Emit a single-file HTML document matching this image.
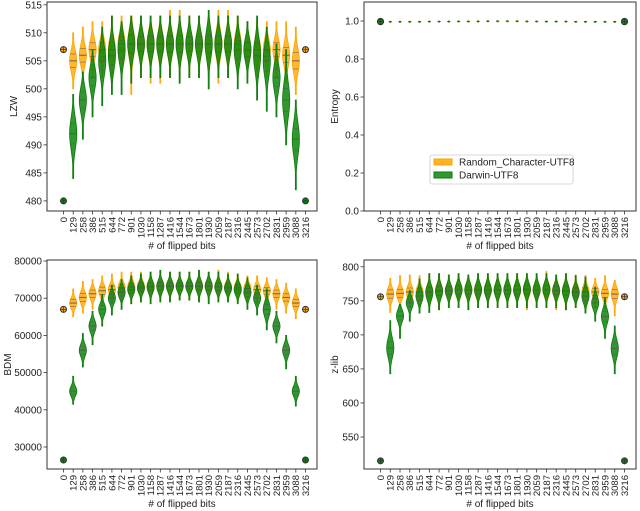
<!DOCTYPE html>
<html><head><meta charset="utf-8">
<style>
html,body{margin:0;padding:0;background:#fff;}
svg{display:block;font-family:"Liberation Sans","DejaVu Sans",sans-serif;}
</style></head>
<body>
<svg id="fig" width="640" height="511" viewBox="0 0 640 511" xmlns="http://www.w3.org/2000/svg"></svg>
<script>
const categories=[0,129,258,386,515,644,772,901,1030,1158,1287,1416,1544,1673,1801,1930,2059,2187,2316,2445,2573,2702,2831,2959,3088,3216];

// LZW
const lzwRandMed=[507,505,506,507,507,507,508,508,508,508,508,508,508,508,508,508,508,508,508,507,507,507,507,506,505,507];
const lzwRandMin=[507,500,501,502,502,502,502,499,502,501,501,502,502,502,502,502,501,502,502,502,502,502,502,501,499,507];
const lzwRandMax=[507,510,511,512,512,513,513,513,513,513,513,514,514,513,513,513,514,514,513,512,512,512,512,512,511,507];
const lzwDarMed=[480,492,498,502,505,506,507,508,508,508,508,508,508,508,508,508,508,508,507,507,506,505,502,498,491,480];
const lzwDarMin=[480,484,491,495,497,499,499,501,502,502,502,502,501,502,502,500,502,502,500,501,498,496,495,490,482,480];
const lzwDarMax=[480,499,503,507,511,513,512,513,513,513,513,513,513,513,513,514,513,513,513,512,513,511,508,507,498,480];

// Entropy
const entRandMed=[0.998,0.997,0.997,0.997,0.997,0.997,0.997,0.998,0.998,0.998,0.999,0.999,0.999,0.999,0.999,0.999,0.998,0.998,0.998,0.997,0.997,0.997,0.997,0.997,0.997,0.998];
const entDarMed=[0.996,0.996,0.996,0.996,0.996,0.997,0.997,0.997,0.998,0.998,0.998,0.999,0.999,0.999,0.999,0.998,0.998,0.997,0.997,0.997,0.996,0.996,0.996,0.996,0.996,0.996];

// BDM
const bdmRandMed=[67000,68700,70200,71200,72000,72300,72800,73000,73100,73200,73200,73200,73200,73200,73200,73200,73100,73000,72800,72600,72300,72000,71200,70200,68700,67000];
const bdmRandMin=[67000,65000,66000,67000,68000,68500,69000,68500,69000,69500,69500,69500,69500,69500,69500,69500,69500,69500,69000,68500,68500,68000,67000,66000,64500,67000];
const bdmRandMax=[67000,72500,74500,75000,76000,76500,77000,77000,77000,77000,77000,77000,77000,77000,77000,77000,77500,77000,76500,76000,76000,75500,75000,74000,72500,67000];
const bdmDarMed=[26500,45000,56000,62500,67000,70000,71500,72300,72700,73000,73200,73200,73200,73200,73200,73200,73000,72700,72300,71500,70000,67000,62500,56000,45000,26500];
const bdmDarMin=[26500,41500,51500,57500,62500,65500,67000,68500,69000,68500,69000,69000,69500,69500,69000,68500,69000,69000,68500,67000,65500,61500,58000,51000,41000,26500];
const bdmDarMax=[26500,49000,60500,66500,71000,73500,75000,76000,76500,77000,77500,77000,77000,77000,77500,77000,77000,76500,76500,75500,73500,72500,66500,60000,49000,26500];

// z-lib
const zRandMed=[756,760,761,763,763,764,765,765,766,766,766,766,766,766,766,766,766,766,765,765,764,763,763,761,760,756];
const zRandMin=[756,733,740,740,740,740,737,740,740,737,740,740,740,740,740,737,740,740,737,737,740,735,740,738,728,756];
const zRandMax=[756,783,787,788,787,790,790,788,790,788,790,790,790,790,790,790,790,793,788,790,788,787,783,787,780,756];
const zDarMed=[515,681,728,747,757,762,764,765,766,766,766,766,766,766,766,767,766,767,765,764,762,757,747,727,680,515];
const zDarMin=[515,643,695,720,732,733,737,740,740,737,740,740,740,740,740,740,740,740,740,737,740,732,720,695,643,515];
const zDarMax=[515,721,745,765,782,790,790,788,790,788,790,790,790,790,790,790,790,790,788,790,787,785,770,755,713,515];

const NS="http://www.w3.org/2000/svg";
const svg=document.getElementById('fig');
function mk(tag,attrs,parent){const e=document.createElementNS(NS,tag);for(const k in attrs)e.setAttribute(k,attrs[k]);(parent||svg).appendChild(e);return e;}

const panels=[
 {name:'lzw',label:'LZW',lx:14,l:47,r:317,t:2,b:211,ymin:478.2,ymax:515.5,ticks:[480,485,490,495,500,505,510,515],fmt:v=>String(v),
  series:[[lzwRandMed,lzwRandMin,lzwRandMax],[lzwDarMed,lzwDarMin,lzwDarMax]],hw:3.6},
 {name:'entropy',label:'Entropy',lx:335,l:364,r:636,t:2,b:211,ymin:0,ymax:1.1,ticks:[0,0.2,0.4,0.6,0.8,1.0],fmt:v=>v.toFixed(1),
  series:[[entRandMed,entRandMed.map(v=>v-0.003),entRandMed.map(v=>v+0.002)],[entDarMed,entDarMed.map(v=>v-0.003),entDarMed.map(v=>v+0.002)]],hw:1.2,legend:true},
 {name:'bdm',label:'BDM',lx:8,l:47,r:317,t:260,b:469,ymin:24086,ymax:80270,ticks:[30000,40000,50000,60000,70000,80000],fmt:v=>String(v),
  series:[[bdmRandMed,bdmRandMin,bdmRandMax],[bdmDarMed,bdmDarMin,bdmDarMax]],hw:3.6},
 {name:'zlib',label:'z-lib',lx:335,l:364,r:636,t:260,b:469,ymin:503,ymax:810,ticks:[550,600,650,700,750,800],fmt:v=>String(v),
  series:[[zRandMed,zRandMin,zRandMax],[zDarMed,zDarMin,zDarMax]],hw:3.6}
];
const colors=['#ffa500','#0a870a'];
const strokes=['#ffa500','#0b7a0b'];

panels.forEach(p=>{
  const g=mk('g',{});
  
  
  const n=categories.length;
  const x0=p.l+16.5, x1=p.r-11.5;
  const xs=i=>x0+(x1-x0)*i/(n-1);
  const ys=v=>p.b-(v-p.ymin)/(p.ymax-p.ymin)*(p.b-p.t);
  p.series.forEach((s,si)=>{
    const [med,mn,mx]=s;
    categories.forEach((c,i)=>{
      const cx=xs(i);
      if(mx[i]-mn[i]<=0 || i===0 || i===n-1){
        const cy=ys(med[i]);
        const m=mk('circle',{cx:cx,cy:cy,r:3,fill:colors[si],stroke:'#333','stroke-width':1},g);
        
        
        mk('line',{x1:cx-2.6,x2:cx+2.6,y1:cy,y2:cy,stroke:'#333','stroke-width':0.7},g);
        mk('line',{x1:cx,x2:cx,y1:cy-2.6,y2:cy+2.6,stroke:'#333','stroke-width':0.7},g);
        return;
      }
      const sig=(mx[i]-mn[i])/5.5;
      const left=[],right=[];
      const N=30;
      for(let k=0;k<=N;k++){
        const v=mn[i]+(mx[i]-mn[i])*k/N;
        const d=Math.exp(-0.5*((v-med[i])/sig)**2);
        const w=Math.max(0.5,p.hw*d);
        left.push((cx-w).toFixed(2)+','+ys(v).toFixed(2));
        right.unshift((cx+w).toFixed(2)+','+ys(v).toFixed(2));
      }
      const poly=mk('polygon',{points:left.concat(right).join(' '),fill:colors[si],'fill-opacity':si?0.85:0.8,stroke:strokes[si],'stroke-width':0.8},g);
      
      
      if(p.hw>2){
        const q=sig*0.67;
        [[med[i],1.1],[med[i]-q,0.6],[med[i]+q,0.6]].forEach(([v,sw])=>{
          const yy=ys(v);const w=p.hw*Math.exp(-0.5*((v-med[i])/sig)**2);
          mk('line',{x1:cx-w,x2:cx+w,y1:yy,y2:yy,stroke:'#555','stroke-width':sw,'stroke-opacity':0.8},g);
        });
      }
    });
  });
  const fr=mk('rect',{x:p.l,y:p.t,width:p.r-p.l,height:p.b-p.t,fill:'none',stroke:'#333','stroke-width':1},g);
  
  
  p.ticks.forEach(v=>{
    const y=ys(v);
    mk('line',{x1:p.l-3.5,x2:p.l,y1:y,y2:y,stroke:'#333','stroke-width':0.8},g);
    const t=mk('text',{x:p.l-5,y:y+3.5,'font-size':10,'text-anchor':'end',fill:'#222'},g);
    t.textContent=p.fmt(v);
    
    
  });
  categories.forEach((c,i)=>{
    const x=xs(i);
    mk('line',{x1:x,x2:x,y1:p.b,y2:p.b+3.5,stroke:'#333','stroke-width':0.8},g);
    const t=mk('text',{x:0,y:0,'font-size':9.5,'text-anchor':'end',fill:'#222',transform:`translate(${x+3.4},${p.b+6}) rotate(-90)`},g);
    t.textContent=String(c);
    
    
  });
  const xl=mk('text',{x:(p.l+p.r)/2,y:p.b+38,'font-size':10,'text-anchor':'middle',fill:'#222'},g);
  xl.textContent='# of flipped bits';
  
  
  const yl=mk('text',{x:0,y:0,'font-size':10,'text-anchor':'middle',fill:'#222',transform:`translate(${p.lx+3},${(p.t+p.b)/2}) rotate(-90)`},g);
  yl.textContent=p.label;
  
  
  if(p.legend){
    const lg=mk('g',{},g);
    
    
    mk('rect',{x:430,y:155,width:143,height:29,rx:2,fill:'#fff',stroke:'#ccc','stroke-width':0.8},lg);
    [['Random_Character-UTF8',0],['Darwin-UTF8',1]].forEach(([lab,k])=>{
      const yy=159+k*13;
      const e=mk('rect',{x:434,y:yy,width:18,height:6,fill:colors[k],'fill-opacity':0.85,stroke:strokes[k]},lg);
      
      
      const t=mk('text',{x:459,y:yy+6.5,'font-size':10,fill:'#222'},lg);
      t.textContent=lab;
      
      
    });
  }
});
</script>
</body></html>
